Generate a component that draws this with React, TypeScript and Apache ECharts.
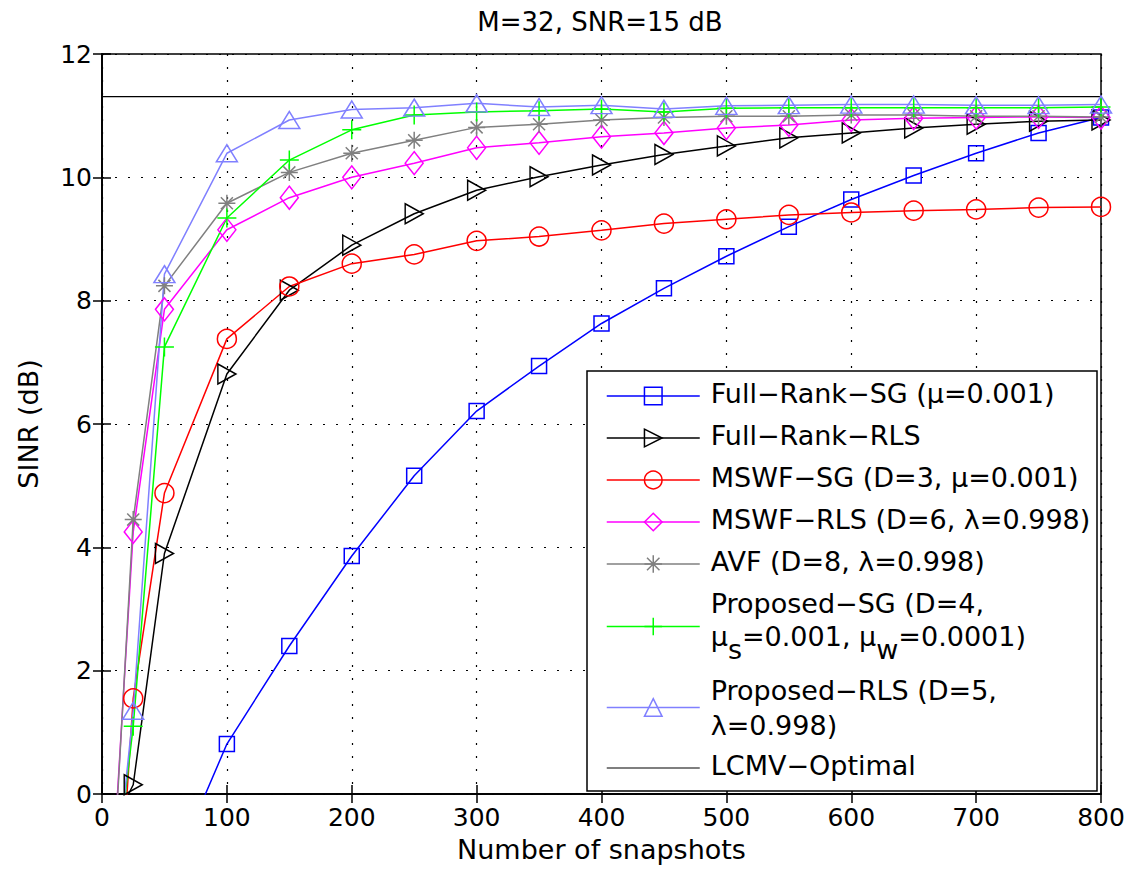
import React, { useEffect, useRef } from 'react';
import * as echarts from 'echarts';

// Number of snapshots (x values)
const snapshots = [10, 25, 50, 100, 150, 200, 250, 300, 350, 400, 450, 500, 550, 600, 650, 700, 750, 800];

// SINR (dB) per algorithm
const fullRankSG = [-5.0, -3.2, -1.55, 0.81, 2.4, 3.86, 5.16, 6.21, 6.94, 7.63, 8.2, 8.72, 9.2, 9.64, 10.03, 10.39, 10.72, 10.97];
const fullRankRLS = [-0.46, 0.15, 3.9, 6.81, 8.17, 8.9, 9.41, 9.79, 10.01, 10.2, 10.37, 10.51, 10.64, 10.72, 10.8, 10.86, 10.91, 10.93];
const mswfSG = [-3.1, 1.55, 4.88, 7.38, 8.23, 8.6, 8.75, 8.97, 9.04, 9.14, 9.25, 9.32, 9.39, 9.43, 9.46, 9.48, 9.51, 9.52];
const mswfRLS = [-0.8, 4.25, 7.86, 9.15, 9.67, 10.0, 10.23, 10.48, 10.56, 10.66, 10.72, 10.8, 10.85, 10.93, 10.96, 10.97, 10.98, 10.97];
const avf = [-0.95, 4.45, 8.24, 9.58, 10.08, 10.39, 10.6, 10.81, 10.86, 10.93, 10.97, 10.99, 10.99, 11.01, 11.01, 10.99, 10.99, 10.98];
const proposedSG = [-1.5, 1.1, 7.25, 9.34, 10.28, 10.77, 11.01, 11.06, 11.08, 11.11, 11.06, 11.12, 11.13, 11.13, 11.13, 11.13, 11.13, 11.14];
const proposedRLS = [-1.6, 1.35, 8.43, 10.39, 10.93, 11.1, 11.13, 11.2, 11.14, 11.17, 11.11, 11.16, 11.17, 11.18, 11.18, 11.17, 11.17, 11.18];
const lcmvOptimal = [11.31, 11.31];
const lcmvX = [0, 800];

const seriesNames = [
  'Full−Rank−SG (μ=0.001)',
  'Full−Rank−RLS',
  'MSWF−SG (D=3, μ=0.001)',
  'MSWF−RLS (D=6, λ=0.998)',
  'AVF (D=8, λ=0.998)',
  'Proposed−SG (D=4, μs=0.001, μw=0.0001)',
  'Proposed−RLS (D=5, λ=0.998)',
  'LCMV−Optimal',
];

const legendLabels: Record<string, string> = {
  'Full−Rank−SG (μ=0.001)': '{t|Full−Rank−SG (μ=0.001)}',
  'Full−Rank−RLS': '{t|Full−Rank−RLS}',
  'MSWF−SG (D=3, μ=0.001)': '{t|MSWF−SG (D=3, μ=0.001)}',
  'MSWF−RLS (D=6, λ=0.998)': '{t|MSWF−RLS (D=6, λ=0.998)}',
  'AVF (D=8, λ=0.998)': '{t|AVF (D=8, λ=0.998)}',
  'Proposed−SG (D=4, μs=0.001, μw=0.0001)': '{t|Proposed−SG (D=4,}\n{t|μ}{s|s}{t|=0.001, μ}{s|w}{t|=0.0001)}',
  'Proposed−RLS (D=5, λ=0.998)': '{u|Proposed−RLS (D=5,}\n{u|λ=0.998)}',
  'LCMV−Optimal': '{t|LCMV−Optimal}',
};

const FONT = 'DejaVu Sans';

export default function App() {
  const ref = useRef<HTMLDivElement>(null);
  useEffect(() => {
    document.body.style.margin = '0';
    const chart = echarts.init(ref.current!, null, { renderer: 'svg' });

    const defs = [
      { data: fullRankSG, color: '#0000ff', symbol: 'rect', size: 15 },
      { data: fullRankRLS, color: '#000000', symbol: 'path://M0,0L10,5L0,10Z', size: [18, 20] },
      { data: mswfSG, color: '#ff0000', symbol: 'circle', size: 19 },
      { data: mswfRLS, color: '#ff00ff', symbol: 'diamond', size: [18, 23] },
      { data: avf, color: '#808080', symbol: 'path://M5,0L5,10M0,5L10,5M1.46,1.46L8.54,8.54M1.46,8.54L8.54,1.46', size: 17 },
      { data: proposedSG, color: '#00ff00', symbol: 'path://M5,0L5,10M0,5L10,5', size: 19 },
      { data: proposedRLS, color: '#8080ff', symbol: 'triangle', size: [21, 17] },
    ];

    const series: any[] = defs.map((d, i) => ({
      name: seriesNames[i],
      type: 'line',
      data: snapshots.map((x, j) => [x, d.data[j]]),
      symbol: d.symbol,
      symbolSize: d.size,
      showAllSymbol: true,
      clip: true,
      lineStyle: { color: d.color, width: 1.5 },
      itemStyle: { color: 'rgba(0,0,0,0)', borderColor: d.color, borderWidth: 1.5 },
      emphasis: { disabled: true },
      z: 2,
    }));
    series.push({
      name: seriesNames[7],
      type: 'line',
      data: lcmvX.map((x, j) => [x, lcmvOptimal[j]]),
      symbol: 'none',
      lineStyle: { color: '#000', width: 1.2 },
      itemStyle: { color: 'rgba(0,0,0,0)' },
      emphasis: { disabled: true },
      z: 2,
    });

    const legendColors = ['#0000ff', '#000000', '#ff0000', '#ff00ff', '#808080', '#00ff00', '#8080ff', '#000000'];
    const legendData = seriesNames.map((n, i) => ({
      name: n,
      itemStyle: i === 7
        ? { color: 'rgba(0,0,0,0)', borderColor: 'rgba(0,0,0,0)', borderWidth: 0 }
        : { color: 'rgba(0,0,0,0)', borderColor: legendColors[i], borderWidth: 1.5 },
      lineStyle: { color: legendColors[i], width: i === 7 ? 1.2 : 1.5 },
    }));

    const axisCommonLine = { show: true, lineStyle: { color: '#000', width: 1.5 } };
    const tickIn = { show: true, inside: true, length: 9, lineStyle: { color: '#000', width: 1.5 } };

    const option: any = {
      animation: false,
      backgroundColor: '#fff',
      title: {
        text: 'M=32, SNR=15 dB',
        left: 600,
        top: 9,
        textAlign: 'center',
        padding: 0,
        textStyle: { fontFamily: FONT, fontSize: 26, fontWeight: 'normal', color: '#000' },
      },
      grid: {
        left: 102,
        right: 29,
        top: 54,
        bottom: 77,
        show: true,
        borderColor: '#000',
        borderWidth: 1.5,
        backgroundColor: 'transparent',
      },
      xAxis: [
        {
          type: 'value',
          min: 0,
          max: 800,
          interval: 100,
          position: 'bottom',
          name: 'Number of snapshots',
          nameLocation: 'middle',
          nameGap: 42,
          nameTextStyle: { fontFamily: FONT, fontSize: 27, color: '#000' },
          axisLine: axisCommonLine,
          axisTick: tickIn,
          axisLabel: { fontFamily: FONT, fontSize: 25, color: '#000', margin: 11 },
          splitLine: { show: true, lineStyle: { color: '#000', width: 1.2, type: [2, 11] } },
        },
        {
          type: 'value',
          min: 0,
          max: 800,
          interval: 100,
          position: 'top',
          axisLine: axisCommonLine,
          axisTick: tickIn,
          axisLabel: { show: false },
          splitLine: { show: false },
        },
      ],
      yAxis: [
        {
          type: 'value',
          min: 0,
          max: 12,
          interval: 2,
          position: 'left',
          name: 'SINR (dB)',
          nameLocation: 'middle',
          nameGap: 60,
          nameRotate: 90,
          nameTextStyle: { fontFamily: FONT, fontSize: 27, color: '#000' },
          axisLine: axisCommonLine,
          axisTick: tickIn,
          axisLabel: { fontFamily: FONT, fontSize: 25, color: '#000', margin: 10 },
          splitLine: { show: true, lineStyle: { color: '#000', width: 1.2, type: [2, 11] } },
        },
        {
          type: 'value',
          min: 0,
          max: 12,
          interval: 2,
          position: 'right',
          axisLine: axisCommonLine,
          axisTick: tickIn,
          axisLabel: { show: false },
          splitLine: { show: false },
        },
      ],
      legend: {
        orient: 'vertical',
        left: 606,
        top: 379.5,
        padding: 0,
        itemGap: 9,
        itemWidth: 93,
        itemHeight: 22,
        selectedMode: false,
        z: 20,
        data: legendData,
        formatter: (name: string) => legendLabels[name] ?? name,
        textStyle: {
          fontFamily: FONT,
          fontSize: 27,
          color: '#000',
          lineHeight: 33,
          padding: [0, 0, 0, 6],
          rich: {
            t: { fontFamily: FONT, fontSize: 27, color: '#000', lineHeight: 33, verticalAlign: 'top' },
            u: { fontFamily: FONT, fontSize: 27, color: '#000', lineHeight: 35 },
            s: { fontFamily: FONT, fontSize: 27, color: '#000', lineHeight: 41, padding: [13, 0, 0, 0], verticalAlign: 'top' },
          },
        },
      },
      graphic: [
        {
          type: 'rect',
          z: 10,
          shape: { x: 587, y: 371, width: 510, height: 420 },
          style: { fill: '#fff', stroke: '#000', lineWidth: 1.5 },
        },
      ],
      series,
    };

    chart.setOption(option);
    return () => chart.dispose();
  }, []);
  return <div ref={ref} style={{ width: 1130, height: 871 }} />;
}
